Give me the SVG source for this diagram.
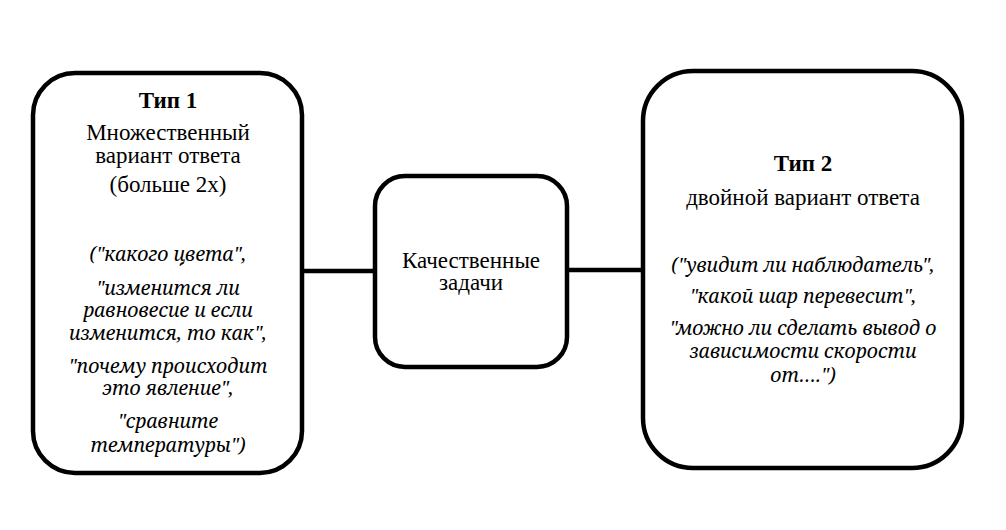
<svg xmlns="http://www.w3.org/2000/svg" width="1006" height="530" viewBox="0 0 1006 530">
<style>
.box{fill:#fff;stroke:#000;stroke-width:4.5}
.t{font-family:"Liberation Serif","Times New Roman",serif;font-size:23px;fill:#000;text-anchor:middle}
.b{font-weight:bold}
.i{font-family:"Noto Serif","Liberation Serif",serif;font-style:italic;font-size:19.5px}
.c{stroke:#000;stroke-width:4.5;fill:none}
</style>
<rect width="1006" height="530" fill="#fff"/>
<g id="connectors">
<line class="c" x1="302" y1="271" x2="375" y2="271"/>
<line class="c" x1="567" y1="270" x2="643" y2="270"/>
</g>
<g id="type1">
<rect class="box" x="33" y="73" width="269" height="400" rx="42"/>
<text class="t b" x="168" y="108">Тип 1</text>
<text class="t" x="168" y="140">Множественный</text>
<text class="t" x="168" y="163">вариант ответа</text>
<text class="t" x="168" y="192">(больше 2х)</text>
<text class="t i" x="168" y="261">("какого цвета",</text>
<text class="t i" x="168" y="295">"изменится ли</text>
<text class="t i" x="168" y="317">равновесие и если</text>
<text class="t i" x="168" y="340">изменится, то как",</text>
<text class="t i" x="168" y="373">"почему происходит</text>
<text class="t i" x="168" y="395">это явление",</text>
<text class="t i" x="168" y="428">"сравните</text>
<text class="t i" x="168" y="452">температуры")</text>
</g>
<g id="center">
<rect class="box" x="375" y="176" width="192" height="191" rx="30"/>
<text class="t" x="471" y="268">Качественные</text>
<text class="t" x="471" y="290">задачи</text>
</g>
<g id="type2">
<rect class="box" x="643" y="71" width="319" height="397" rx="50"/>
<text class="t b" x="803" y="171">Тип 2</text>
<text class="t" x="803" y="205">двойной вариант ответа</text>
<text class="t i" x="803" y="272">("увидит ли наблюдатель",</text>
<text class="t i" x="803" y="303">"какой шар перевесит",</text>
<text class="t i" x="803" y="335">"можно ли сделать вывод о</text>
<text class="t i" x="803" y="358">зависимости скорости</text>
<text class="t i" x="803" y="382">от….")</text>
</g>
</svg>
